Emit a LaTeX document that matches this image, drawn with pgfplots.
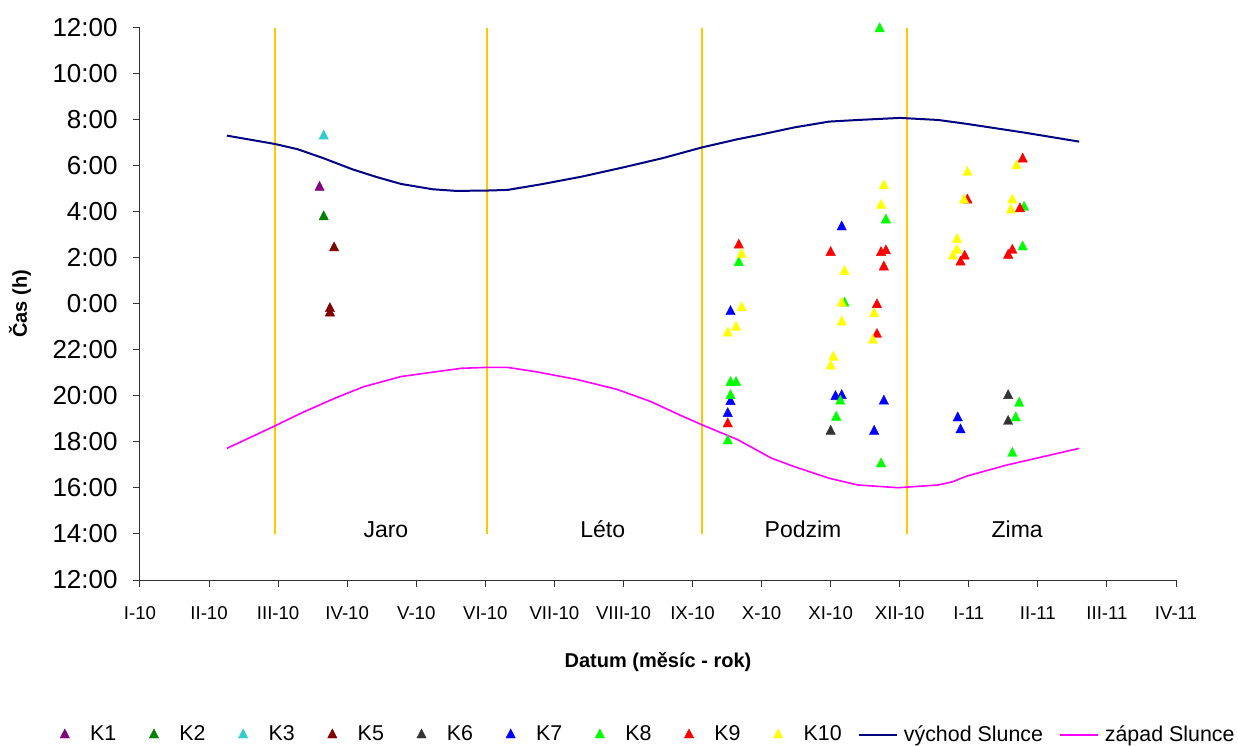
\documentclass[border=0pt]{standalone}
\usepackage{fontspec}
\setmainfont{Liberation Sans}
\usepackage{pgfplots}
\pgfplotsset{compat=1.18}
\definecolor{cK1}{RGB}{128,0,128}
\definecolor{cK2}{RGB}{0,128,0}
\definecolor{cK3}{RGB}{51,204,204}
\definecolor{cK5}{RGB}{128,0,0}
\definecolor{cK6}{RGB}{51,51,51}
\definecolor{cK7}{RGB}{0,0,255}
\definecolor{cK8}{RGB}{0,255,0}
\definecolor{cK9}{RGB}{255,0,0}
\definecolor{cK10}{RGB}{255,255,0}
\definecolor{cEast}{RGB}{0,0,128}
\definecolor{cWest}{RGB}{255,0,255}
\definecolor{cSeason}{RGB}{255,200,0}
\pgfplotsset{mk/.style={only marks, mark=triangle*, mark size=2.7pt, color=#1,
  mark options={fill=#1, draw=#1, line width=0.2pt, yscale=1.12},
  legend image code/.code={\path (0pt,0pt) (21pt,0pt);
    \draw[##1] plot coordinates {(10.5pt,0pt)};}},
  ln/.style={no marks, color=#1,
  legend image code/.code={\path (0pt,0pt) (20pt,0pt);
    \draw[##1] (0pt,0pt) -- (19pt,0pt);}}}
\begin{document}
\begin{tikzpicture}
\begin{axis}[
  name=ax,
  scale only axis,
  width=518pt, height=276.15pt,
  xmin=0, xmax=15, ymin=12, ymax=36,
  axis x line*=bottom, axis y line*=left,
  axis line style={black!80, line width=0.5pt},
  xtick={0,...,15},
  xticklabels={I-10,II-10,III-10,IV-10,V-10,VI-10,VII-10,VIII-10,IX-10,X-10,XI-10,XII-10,I-11,II-11,III-11,IV-11},
  ytick={12,14,...,36},
  yticklabels={12:00,14:00,16:00,18:00,20:00,22:00,0:00,2:00,4:00,6:00,8:00,10:00,12:00},
  tick align=outside, major tick length=3.5pt,
  tick style={black!80, line width=0.5pt},
  xticklabel style={font=\fontsize{9.3}{11}\selectfont, anchor=north, inner sep=0pt, yshift=-9.5pt},
  yticklabel style={font=\fontsize{13}{15}\selectfont, anchor=east, inner sep=0pt, xshift=-7.5pt},
  xlabel={Datum (měsíc - rok)},
  ylabel={Čas (h)},
  every axis x label/.style={at={(axis description cs:0.5,-0.1485)}, anchor=center, font=\bfseries\fontsize{10}{12}\selectfont},
  every axis y label/.style={at={(axis description cs:-0.1158,0.5)}, rotate=90, anchor=center, font=\bfseries\fontsize{10}{12}\selectfont},
  legend columns=11,
  legend style={at={(axis description cs:-0.0994,-0.2806)}, anchor=west, draw=none, fill=none,
    inner xsep=3pt, nodes={inner sep=2pt},
    font=\fontsize{10.7}{12.5}\selectfont, /tikz/every even column/.append style={column sep=6.1pt}},
  legend cell align=left,
  clip=false,
]
\addplot[cSeason, line width=1pt, forget plot] coordinates {(1.95,14) (1.95,36)};
\addplot[cSeason, line width=1pt, forget plot] coordinates {(5.03,14) (5.03,36)};
\addplot[cSeason, line width=1pt, forget plot] coordinates {(8.14,14) (8.14,36)};
\addplot[cSeason, line width=1pt, forget plot] coordinates {(11.10,14) (11.10,36)};

\addplot[mk=cK1] coordinates {(2.60,29.06)};
\addlegendentry{K1}
\addplot[mk=cK2] coordinates {(2.66,27.78)};
\addlegendentry{K2}
\addplot[mk=cK3] coordinates {(2.66,31.29)};
\addlegendentry{K3}
\addplot[mk=cK5] coordinates {(2.81,26.43) (2.75,23.79) (2.75,23.60)};
\addlegendentry{K5}
\addplot[mk=cK6] coordinates {(10.0,18.46) (12.57,20.01) (12.57,18.89)};
\addlegendentry{K6}
\addplot[mk=cK7] coordinates {(8.55,23.66) (8.55,19.75) (8.51,19.23) (10.16,27.34) (10.07,19.97) (10.16,20.01) (10.77,19.77) (10.63,18.46) (11.84,19.04) (11.88,18.52)};
\addlegendentry{K7}
\addplot[mk=cK8] coordinates {(8.67,25.79) (8.55,20.58) (8.63,20.58) (8.55,20.01) (8.51,18.04) (10.80,27.64) (10.20,24.03) (10.14,19.77) (10.08,19.07) (10.73,17.04) (10.71,35.95) (12.80,28.19) (12.78,26.47) (12.73,19.68) (12.68,19.04) (12.63,17.50)};
\addlegendentry{K8}
\addplot[mk=cK9] coordinates {(8.67,26.55) (8.51,18.78) (10.0,26.23) (10.73,26.23) (10.80,26.30) (10.77,25.60) (10.67,23.96) (10.67,22.67) (12.78,30.29) (11.98,28.51) (12.74,28.13) (11.94,26.07) (11.88,25.81) (12.63,26.33) (12.57,26.11)};
\addlegendentry{K9}
\addplot[mk=cK10] coordinates {(8.71,26.15) (8.71,23.83) (8.63,22.98) (8.51,22.73) (10.77,29.13) (10.73,28.28) (10.20,25.40) (10.16,24.03) (10.63,23.57) (10.16,23.21) (10.61,22.41) (10.04,21.68) (10.0,21.29) (11.98,29.71) (12.69,29.99) (11.93,28.51) (12.63,28.51) (12.61,28.07) (11.83,26.80) (11.83,26.33) (11.77,26.07)};
\addlegendentry{K10}
\addplot[ln=cEast, line width=1pt] coordinates {(1.258,31.31)(1.949,30.95)(2.282,30.72)(2.655,30.33)(3.072,29.85)(3.405,29.53)(3.779,29.21)(4.236,28.98)(4.569,28.91)(4.986,28.92)(5.319,28.95)(5.817,29.20)(6.399,29.53)(6.983,29.92)(7.565,30.33)(8.140,30.80)(8.646,31.15)(8.979,31.35)(9.479,31.67)(9.978,31.92)(10.394,31.99)(11.003,32.08)(11.559,31.99)(11.973,31.82)(12.807,31.44)(13.598,31.05)};
\addlegendentry{východ Slunce}
\addplot[ln=cWest, line width=0.8pt] coordinates {(1.258,17.72)(1.949,18.69)(2.324,19.24)(2.823,19.90)(3.239,20.40)(3.779,20.84)(4.236,21.03)(4.653,21.20)(5.036,21.24)(5.319,21.24)(5.733,21.05)(6.317,20.72)(6.900,20.29)(7.398,19.75)(7.815,19.17)(8.140,18.74)(8.646,18.11)(9.146,17.29)(9.479,16.92)(9.978,16.42)(10.394,16.13)(10.977,16.01)(11.559,16.13)(11.766,16.27)(11.973,16.52)(12.557,17.00)(13.598,17.72)};
\addlegendentry{západ Slunce}

\node[anchor=base, font=\fontsize{11.5}{13}\selectfont] at (axis cs:3.56,13.85) {Jaro};
\node[anchor=base, font=\fontsize{11.5}{13}\selectfont] at (axis cs:6.70,13.85) {Léto};
\node[anchor=base, font=\fontsize{11.5}{13}\selectfont] at (axis cs:9.60,13.85) {Podzim};
\node[anchor=base, font=\fontsize{11.5}{13}\selectfont] at (axis cs:12.70,13.85) {Zima};
\end{axis}
\pgfresetboundingbox
\path (ax.south west) ++(-70pt,-82.5pt) rectangle ++(619pt,372.5pt);
\end{tikzpicture}
\end{document}
